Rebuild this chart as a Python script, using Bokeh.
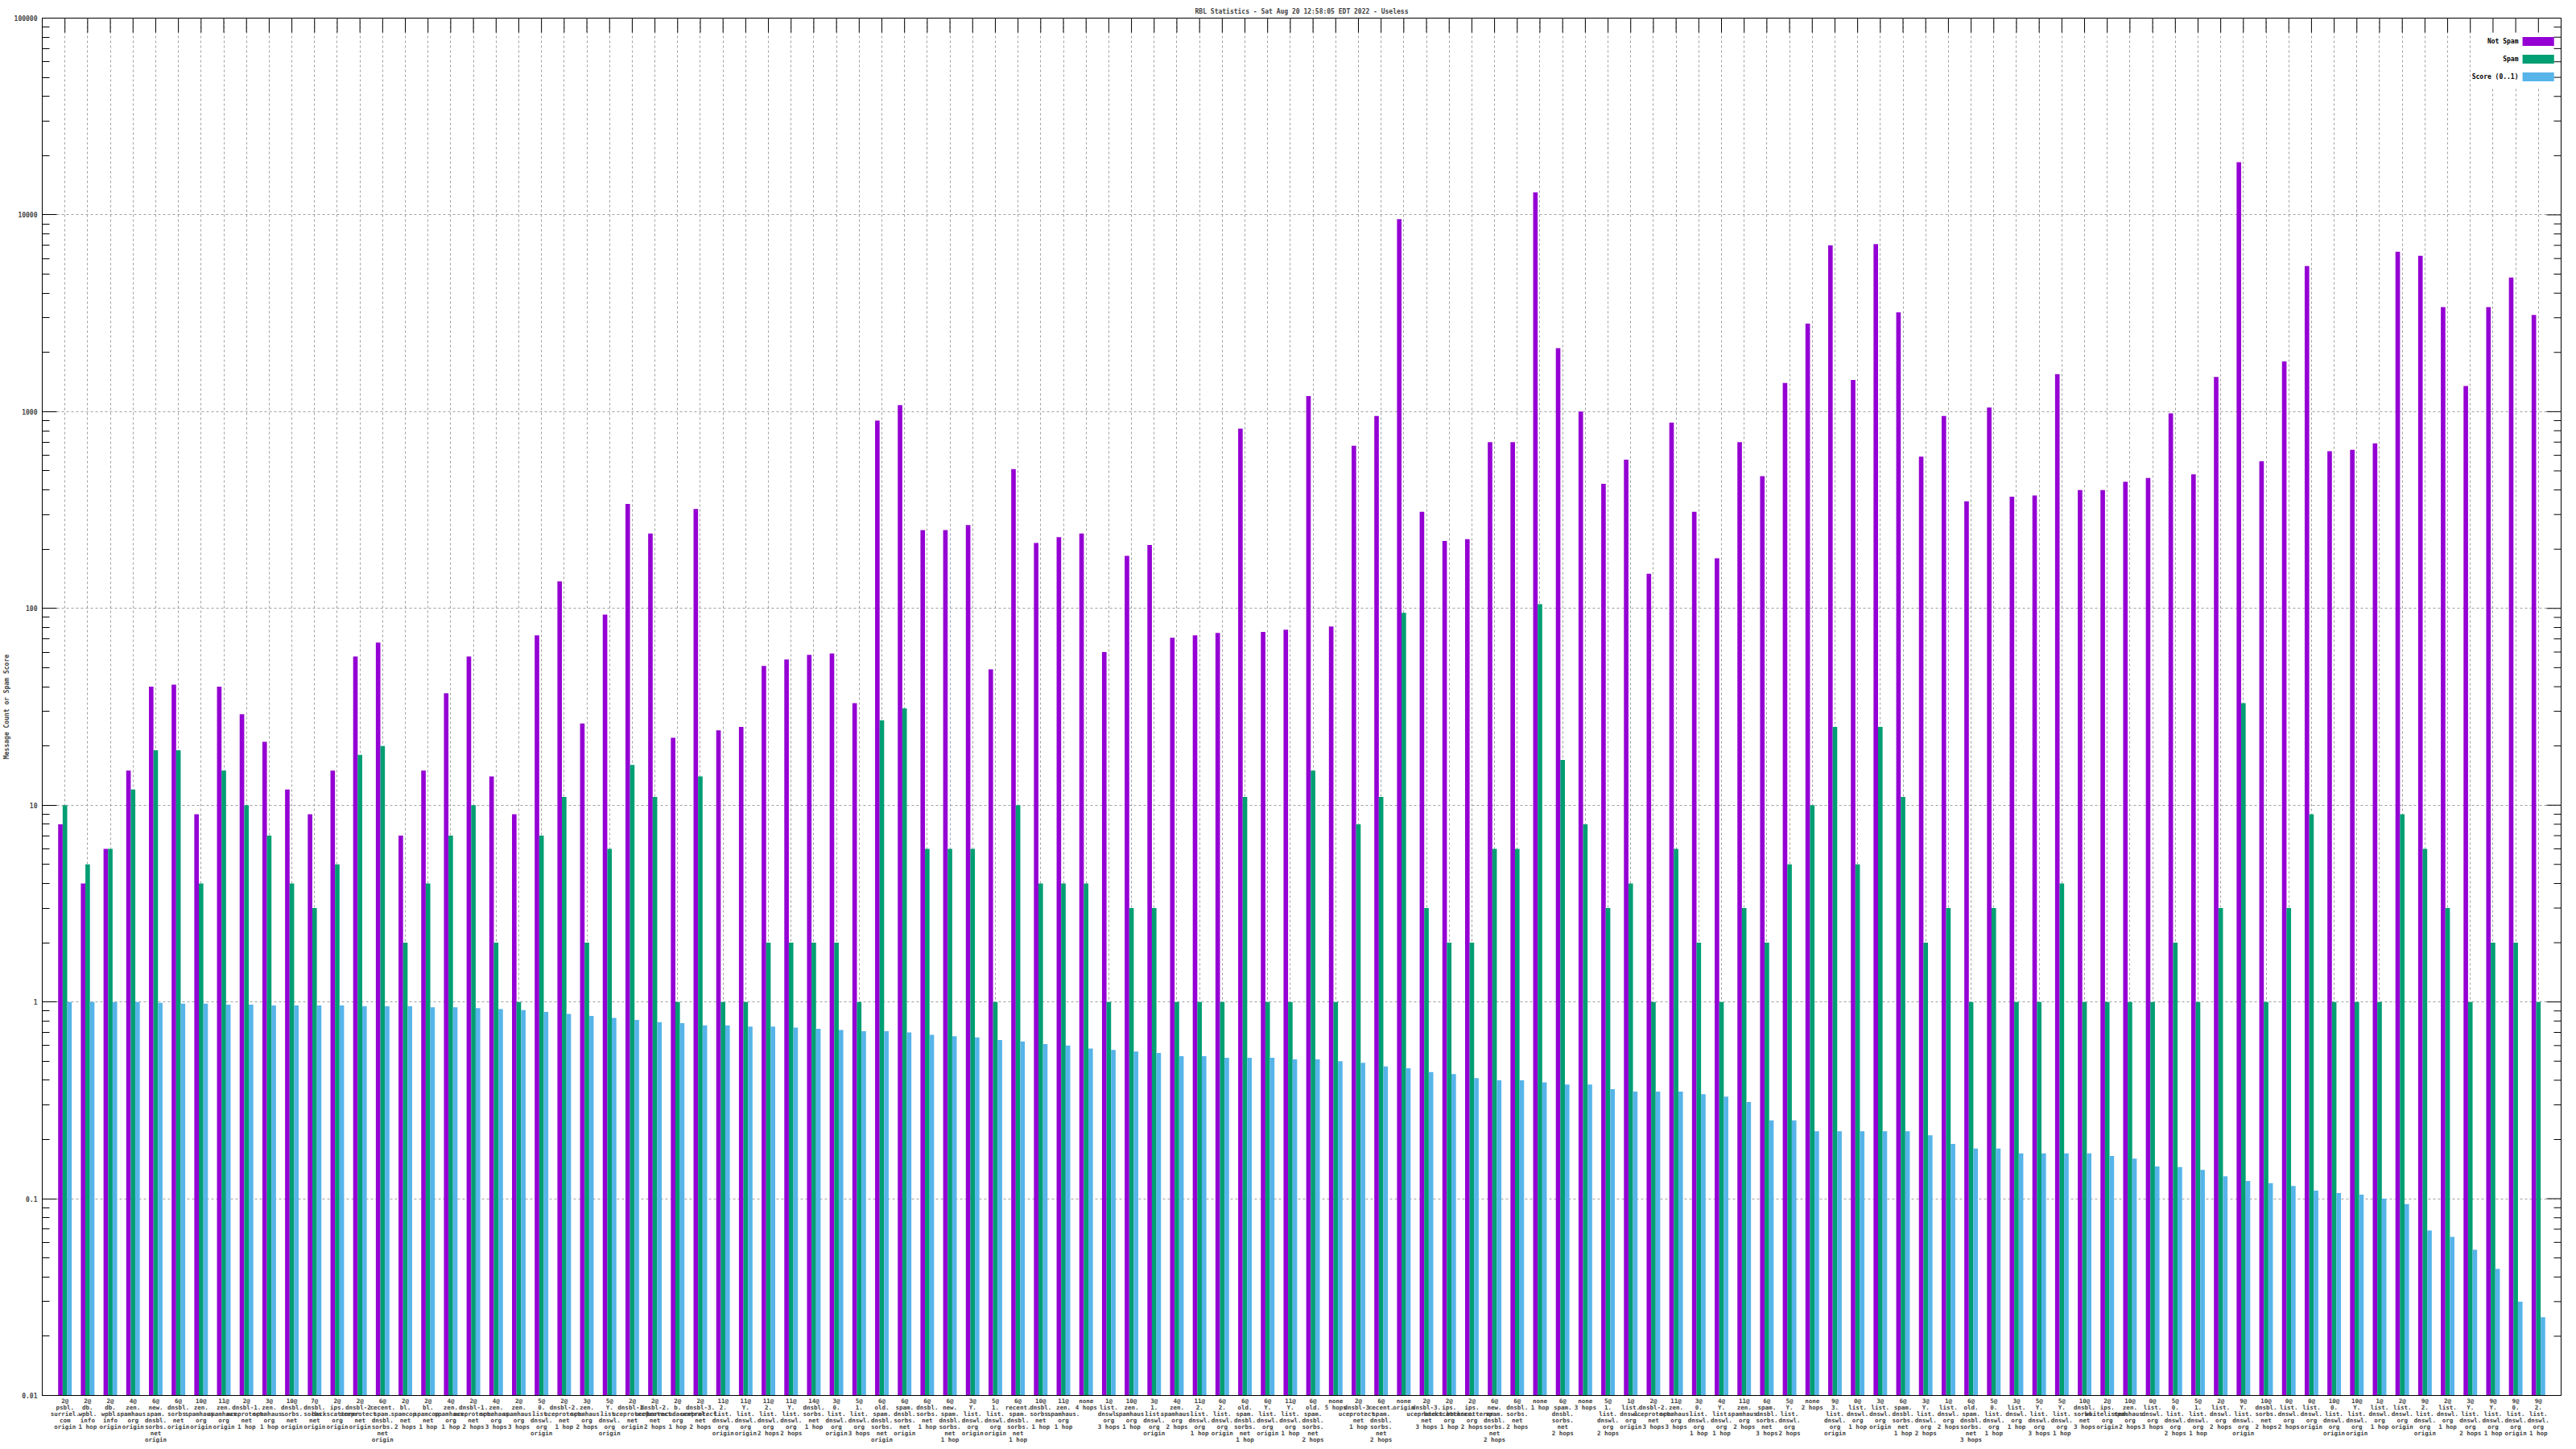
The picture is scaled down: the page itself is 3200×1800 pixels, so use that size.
from bokeh.plotting import figure
from bokeh.models import FixedTicker, CustomJSTickFormatter, Range1d, ColumnDataSource
from bokeh.transform import dodge
from bokeh.core.properties import value
from bokeh.embed import file_html
from bokeh.resources import INLINE

# ---------------- data ----------------
categories = [
    "2@psbl.surriel.com origin", "2@db.wpbl.info 1 hop", "2@db.wpbl.info origin",
    "4@zen.spamhaus.org origin", "6@new.spam.dnsbl.sorbs.net origin", "6@dnsbl.sorbs.net origin",
    "10@zen.spamhaus.org origin", "11@zen.spamhaus.org origin", "2@dnsbl-1.uceprotect.net 1 hop",
    "3@zen.spamhaus.org 1 hop", "10@dnsbl.sorbs.net origin", "7@dnsbl.sorbs.net origin",
    "2@ips.backscatterer.org origin", "2@dnsbl-2.uceprotect.net origin",
    "6@recent.spam.dnsbl.sorbs.net origin", "2@bl.spamcop.net 2 hops", "2@bl.spamcop.net 1 hop",
    "4@zen.spamhaus.org 1 hop", "2@dnsbl-1.uceprotect.net 2 hops", "4@zen.spamhaus.org 3 hops",
    "2@zen.spamhaus.org 3 hops", "5@0.list.dnswl.org origin", "2@dnsbl-2.uceprotect.net 1 hop",
    "3@zen.spamhaus.org 2 hops", "5@Y.list.dnswl.org origin", "2@dnsbl-1.uceprotect.net origin",
    "2@dnsbl-2.uceprotect.net 2 hops", "2@b.barracudacentral.org 1 hop",
    "2@dnsbl-3.uceprotect.net 2 hops", "11@2.list.dnswl.org origin", "11@Y.list.dnswl.org origin",
    "11@2.list.dnswl.org 2 hops", "11@Y.list.dnswl.org 2 hops", "14@dnsbl.sorbs.net 1 hop",
    "3@0.list.dnswl.org origin", "5@1.list.dnswl.org 3 hops", "6@old.spam.dnsbl.sorbs.net origin",
    "6@spam.dnsbl.sorbs.net origin", "6@dnsbl.sorbs.net 1 hop", "6@new.spam.dnsbl.sorbs.net 1 hop",
    "3@Y.list.dnswl.org origin", "5@1.list.dnswl.org origin", "6@recent.spam.dnsbl.sorbs.net 1 hop",
    "10@dnsbl.sorbs.net 1 hop", "11@zen.spamhaus.org 1 hop", "none 4 hops",
    "1@list.dnswl.org 3 hops", "10@zen.spamhaus.org 1 hop", "3@1.list.dnswl.org origin",
    "4@zen.spamhaus.org 2 hops", "11@2.list.dnswl.org 1 hop", "6@2.list.dnswl.org origin",
    "6@old.spam.dnsbl.sorbs.net 1 hop", "6@Y.list.dnswl.org origin", "11@Y.list.dnswl.org 1 hop",
    "6@old.spam.dnsbl.sorbs.net 2 hops", "none 5 hops", "2@dnsbl-3.uceprotect.net 1 hop",
    "6@recent.spam.dnsbl.sorbs.net 2 hops", "none origin", "2@dnsbl-3.uceprotect.net 3 hops",
    "2@ips.backscatterer.org 1 hop", "2@ips.backscatterer.org 2 hops",
    "6@new.spam.dnsbl.sorbs.net 2 hops", "6@dnsbl.sorbs.net 2 hops", "none 1 hop",
    "6@spam.dnsbl.sorbs.net 2 hops", "none 3 hops", "5@1.list.dnswl.org 2 hops",
    "1@list.dnswl.org origin", "2@dnsbl-2.uceprotect.net 3 hops", "11@zen.spamhaus.org 3 hops",
    "3@0.list.dnswl.org 1 hop", "4@Y.list.dnswl.org 1 hop", "11@zen.spamhaus.org 2 hops",
    "6@spam.dnsbl.sorbs.net 3 hops", "5@Y.list.dnswl.org 2 hops", "none 2 hops",
    "9@3.list.dnswl.org origin", "0@list.dnswl.org 1 hop", "3@list.dnswl.org origin",
    "6@spam.dnsbl.sorbs.net 1 hop", "3@Y.list.dnswl.org 2 hops", "1@list.dnswl.org 2 hops",
    "6@old.spam.dnsbl.sorbs.net 3 hops", "5@0.list.dnswl.org 1 hop", "3@list.dnswl.org 1 hop",
    "5@Y.list.dnswl.org 3 hops", "5@Y.list.dnswl.org 1 hop", "10@dnsbl.sorbs.net 3 hops",
    "2@ips.whitelisted.org origin", "10@zen.spamhaus.org 2 hops", "0@list.dnswl.org 3 hops",
    "5@0.list.dnswl.org 2 hops", "5@1.list.dnswl.org 1 hop", "2@list.dnswl.org 2 hops",
    "9@Y.list.dnswl.org origin", "10@dnsbl.sorbs.net 2 hops", "0@list.dnswl.org 2 hops",
    "0@list.dnswl.org origin", "10@0.list.dnswl.org origin", "10@Y.list.dnswl.org origin",
    "1@list.dnswl.org 1 hop", "2@list.dnswl.org origin", "9@2.list.dnswl.org origin",
    "2@list.dnswl.org 1 hop", "3@Y.list.dnswl.org 2 hops", "9@Y.list.dnswl.org 1 hop",
    "9@0.list.dnswl.org origin", "9@2.list.dnswl.org 1 hop",
]

not_spam = [8, 4, 6, 15, 40, 41, 9, 40, 29, 21,
            12, 9, 15, 57, 67, 7, 15, 37, 57, 14,
            9, 73, 137, 26, 93, 340, 240, 22, 320, 24,
            25, 51, 55, 58, 59, 33, 900, 1080, 250, 250,
            265, 49, 510, 215, 230, 240, 60, 185, 210, 71,
            73, 75, 820, 76, 78, 1200, 81, 670, 950, 9500,
            310, 220, 225, 700, 700, 13000, 2100, 1000, 430, 570,
            150, 880, 310, 180, 700, 470, 1400, 2800, 7000, 1450,
            7100, 3200, 590, 950, 350, 1050, 370, 375, 1550, 400,
            400, 440, 460, 980, 480, 1500, 18500, 560, 1800, 5500,
            630, 640, 690, 6500, 6200, 3400, 1350, 3400, 4800, 3100]

spam = [10, 5, 6, 12, 19, 19, 4, 15, 10, 7,
        4, 3, 5, 18, 20, 2, 4, 7, 10, 2,
        1, 7, 11, 2, 6, 16, 11, 1, 14, 1,
        1, 2, 2, 2, 2, 1, 27, 31, 6, 6,
        6, 1, 10, 4, 4, 4, 1, 3, 3, 1,
        1, 1, 11, 1, 1, 15, 1, 8, 11, 95,
        3, 2, 2, 6, 6, 105, 17, 8, 3, 4,
        1, 6, 2, 1, 3, 2, 5, 10, 25, 5,
        25, 11, 2, 3, 1, 3, 1, 1, 4, 1,
        1, 1, 1, 2, 1, 3, 33, 1, 3, 9,
        1, 1, 1, 9, 6, 3, 1, 2, 2, 1]

score = [1.0, 1.0, 1.0, 1.0, 0.99, 0.98, 0.98, 0.97, 0.97, 0.96,
         0.96, 0.96, 0.96, 0.95, 0.95, 0.95, 0.94, 0.94, 0.93, 0.92,
         0.91, 0.89, 0.87, 0.85, 0.83, 0.81, 0.79, 0.78, 0.76, 0.76,
         0.75, 0.75, 0.74, 0.73, 0.72, 0.71, 0.71, 0.70, 0.68, 0.67,
         0.66, 0.64, 0.63, 0.61, 0.60, 0.58, 0.57, 0.56, 0.55, 0.53,
         0.53, 0.52, 0.52, 0.52, 0.51, 0.51, 0.50, 0.49, 0.47, 0.46,
         0.44, 0.43, 0.41, 0.40, 0.40, 0.39, 0.38, 0.38, 0.36, 0.35,
         0.35, 0.35, 0.34, 0.33, 0.31, 0.25, 0.25, 0.22, 0.22, 0.22,
         0.22, 0.22, 0.21, 0.19, 0.18, 0.18, 0.17, 0.17, 0.17, 0.17,
         0.165, 0.16, 0.146, 0.145, 0.14, 0.13, 0.123, 0.12, 0.116, 0.11,
         0.107, 0.105, 0.1, 0.094, 0.069, 0.064, 0.055, 0.044, 0.030, 0.025]

series_names = ["Not Spam", "Spam", "Score (0..1)"]
series_colors = ["#9400d3", "#009e73", "#56b4e9"]
y_ticks = [0.01, 0.1, 1, 10, 100, 1000, 10000, 100000]
title_text = "RBL Statistics - Sat Aug 20 12:58:05 EDT 2022 - Useless"
y_label = "Message Count or Spam Score"

FONT = "DejaVu Sans Mono"
STYLE = "bold"


def wrap(s):
    if s.startswith("none"):
        return "none\n" + s[5:]
    head, rest = s.split("@", 1)
    host, hop = rest.split(" ", 1)
    parts = host.split(".")
    lines = [q + "." for q in parts[:-1]] + [parts[-1]]
    return "\n".join([head + "@"] + lines + [hop])


N = len(categories)
xs = list(range(N))
src = ColumnDataSource(dict(x=xs, not_spam=not_spam, spam=spam, score=score))

FW, FH = 3129, 1711
p = figure(frame_width=FW, frame_height=FH, y_axis_type="log",
           x_range=Range1d(-1, N), y_range=Range1d(y_ticks[0], y_ticks[-1]),
           output_backend="svg", toolbar_location=None,
           min_border_left=47, min_border_right=8, min_border_top=22, min_border_bottom=57,
           background_fill_color="white", border_fill_color="white")

p.title.text = title_text
p.title.align = "center"
p.title.text_font = FONT
p.title.text_font_size = "8px"
p.title.text_font_style = STYLE
p.title.standoff = 7

xticker = FixedTicker(ticks=xs)
minor = [m * t for t in y_ticks[:-1] for m in range(2, 10)]
yticker = FixedTicker(ticks=y_ticks, minor_ticks=minor)

# bottom axis
xa = p.xaxis[0]
xa.ticker = xticker
xa.major_label_overrides = {i: wrap(c) for i, c in enumerate(categories)}
xa.major_label_text_font = FONT
xa.major_label_text_font_size = "7.5px"
xa.major_label_text_font_style = STYLE
xa.major_label_text_line_height = 0.9
xa.major_label_standoff = 2
xa.major_tick_in = 0
xa.major_tick_out = 0
xa.minor_tick_in = 0
xa.minor_tick_out = 0
xa.axis_line_color = "black"

# left axis
ya = p.yaxis[0]
ya.ticker = yticker
ya.formatter = CustomJSTickFormatter(code="return tick < 1 ? tick.toString() : tick.toFixed(0);")
ya.major_label_text_font = FONT
ya.major_label_text_font_size = "8px"
ya.major_label_text_font_style = STYLE
ya.major_label_standoff = 6
ya.major_tick_in = 18
ya.major_tick_out = 0
ya.minor_tick_in = 9
ya.minor_tick_out = 0
ya.axis_label = y_label
ya.axis_label_text_font = FONT
ya.axis_label_text_font_size = "8px"
ya.axis_label_text_font_style = STYLE
ya.axis_label_standoff = 2
ya.axis_line_color = "black"

p.outline_line_color = "black"

# grids
p.xgrid.ticker = xticker
p.ygrid.ticker = FixedTicker(ticks=y_ticks)
for g in (p.xgrid[0], p.ygrid[0]):
    g.grid_line_color = "#a0a0a0"
    g.grid_line_dash = "3 3"
    g.grid_line_width = 1

# bars
bw = 0.2
for field, off, col in zip(["not_spam", "spam", "score"], [-bw, 0.0, bw], series_colors):
    p.vbar(x=dodge("x", off, range=p.x_range), top=field, bottom=y_ticks[0], width=bw,
           source=src, fill_color=col, line_color=None)

# mirrored tick marks on the top and right borders (gnuplot style)
px_per_x = FW / (N + 1)
px_per_dec = FH / 7.0
ytop = y_ticks[-1]
ltop = 5.0
key_bottom = 10 ** (ltop - 0.35)

# key background (opaque, as gnuplot draws it)
p.quad(left=[N - 3.85], right=[N - 0.02], bottom=[key_bottom], top=[10 ** (ltop - 0.002)],
       fill_color="white", line_color=None)

p.segment(x0=xs, x1=xs, y0=[ytop] * N, y1=[ytop * 10 ** (-18 / px_per_dec)] * N,
          line_color="black", line_width=1)
p.segment(x0=[N] * len(y_ticks), x1=[N - 18 / px_per_x] * len(y_ticks), y0=y_ticks, y1=y_ticks,
          line_color="black", line_width=1)
p.segment(x0=[N] * len(minor), x1=[N - 9 / px_per_x] * len(minor), y0=minor, y1=minor,
          line_color="black", line_width=1)

# key (text to the left of the swatch, as gnuplot does)
row_logs = [ltop - 0.119, ltop - 0.209, ltop - 0.299]
p.text(x=[N - 1.88] * 3, y=[10 ** v for v in row_logs], text=series_names,
       text_font=value(FONT), text_font_size="8px", text_font_style=STYLE, text_align="right",
       text_baseline="middle", text_color="black")
p.quad(left=[N - 1.70] * 3, right=[N - 0.31] * 3,
       bottom=[10 ** (v - 0.0225) for v in row_logs], top=[10 ** (v + 0.0225) for v in row_logs],
       fill_color=series_colors, line_color=None)

open("out.html", "w").write(file_html(p, INLINE))
